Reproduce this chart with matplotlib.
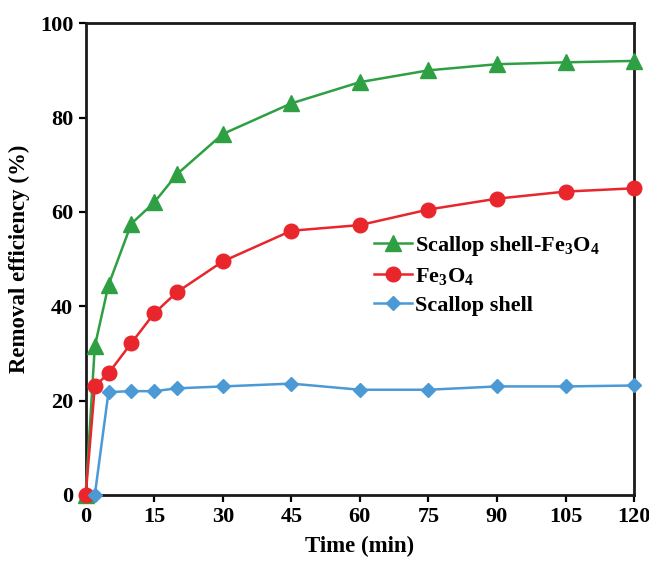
import matplotlib
matplotlib.use("Agg")
import matplotlib.pyplot as plt

time_green = [0, 2, 5, 10, 15, 20, 30, 45, 60, 75, 90, 105, 120]
scallop_fe3o4 = [0, 31.5, 44.5, 57.5, 62, 68, 76.5, 83, 87.5, 90, 91.3, 91.7, 92]
time_red = [0, 2, 5, 10, 15, 20, 30, 45, 60, 75, 90, 105, 120]
fe3o4 = [0, 23, 25.8, 32.2, 38.5, 43, 49.5, 56, 57.2, 60.5, 62.8, 64.3, 65]
time_blue = [2, 5, 10, 15, 20, 30, 45, 60, 75, 90, 105, 120]
scallop = [0, 21.8, 22, 22, 22.6, 23, 23.6, 22.3, 22.3, 23, 23, 23.2]

xticks = [0, 15, 30, 45, 60, 75, 90, 105, 120]
yticks = [0, 20, 40, 60, 80, 100]

plt.rcParams['font.family'] = ['Liberation Serif', 'DejaVu Serif']
plt.rcParams['mathtext.fontset'] = 'custom'
plt.rcParams['mathtext.rm'] = 'Liberation Serif:bold'
plt.rcParams['mathtext.bf'] = 'Liberation Serif:bold'

fig = plt.figure(figsize=(6.49, 5.65), dpi=100)
ax = fig.add_axes([0.132, 0.124, 0.845, 0.835])

ax.plot(time_green, scallop_fe3o4, color='#2ea043', marker='^', markersize=11, lw=1.8,
        label='Scallop shell-Fe$_\\mathrm{3}$O$_\\mathrm{4}$', zorder=3)
ax.plot(time_red, fe3o4, color='#e8262b', marker='o', markersize=10.5, lw=1.8,
        label='Fe$_\\mathrm{3}$O$_\\mathrm{4}$', zorder=4)
ax.plot(time_blue, scallop, color='#4b9ad5', marker='D', markersize=7, lw=1.8,
        label='Scallop shell', zorder=5)

ax.set_xlim(0, 120)
ax.set_ylim(0, 100)
ax.set_xticks(xticks)
ax.set_yticks(yticks)
ax.tick_params(direction='out', length=5, width=1.6, labelsize=16, top=False, right=False, pad=4)
for lab in ax.get_xticklabels() + ax.get_yticklabels():
    lab.set_fontweight('bold')
for sp in ax.spines.values():
    sp.set_linewidth(2.0)
    sp.set_color('#1a1a1a')

ax.set_xlabel('Time (min)', fontsize=16.5, fontweight='bold', labelpad=6)
ax.set_ylabel('Removal efficiency (%)', fontsize=16.5, fontweight='bold', labelpad=7)

leg = ax.legend(loc='upper left', bbox_to_anchor=(0.49, 0.595), frameon=False,
                prop={'size': 16, 'weight': 'bold'}, handlelength=1.7, handletextpad=0.15,
                labelspacing=0.35)
for line in ax.get_lines():
    line.set_clip_on(False)

fig.savefig('out.png', dpi=100)
